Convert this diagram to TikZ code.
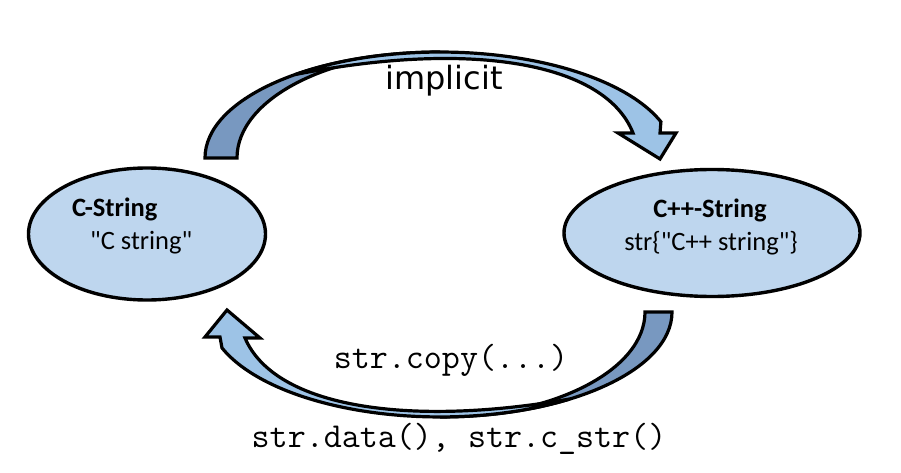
\documentclass[tikz,border=0pt]{standalone}
\usepackage{fontspec}
\setmainfont{Carlito}[Ligatures=TeXOff]
\newfontfamily\dejavu{DejaVu Sans}
\usetikzlibrary{shapes.geometric}
\definecolor{ellfill}{RGB}{190,214,238}
\definecolor{arrlight}{RGB}{157,195,230}
\definecolor{arrdark}{RGB}{120,152,192}
\begin{document}
\begin{tikzpicture}[x=1pt,y=1pt,
  state/.style={ellipse, draw=black, line width=3.4pt, fill=ellfill, inner sep=0pt},
  band/.style={draw=black, line width=3.2pt, line join=miter},
  bodytext/.style={font=\fontsize{26.5}{32}\selectfont, inner sep=0pt},
  headtext/.style={font=\bfseries\fontsize{26.5}{32}\selectfont, inner sep=0pt},
  codetext/.style={font=\ttfamily\fontsize{35}{40}\selectfont, inner sep=0pt}]
\useasboundingbox[fill=white] (0,0) rectangle (901,472);

% states
\node[state, minimum width=237pt, minimum height=132pt] (cs) at (147,238) {};
\node[state, minimum width=296pt, minimum height=127pt] (cpp) at (712,239) {};

\node[headtext, anchor=west] (csH) at (72,263) {C-String};
\node[bodytext, anchor=west] (csB) at (90,229) {"C string"};
\node[headtext] (cppH) at (710,262) {C++-String};
\node[bodytext] (cppB) at (711,229) {str\{"C++ string"\}};

% top curved arrow
\draw[band, fill=arrdark] (205,314)
  arc[start angle=180, end angle=90, x radius=235, y radius=106]
  arc[start angle=90, end angle=180, x radius=203, y radius=106] -- cycle;
\draw[band, fill=arrlight] (295.4,397.5)
  arc[start angle=128, end angle=20, x radius=235, y radius=106]
  -- (660,339) -- (676,339) -- (660,313) -- (618,339) -- (633,339)
  .. controls (605,410) and (470,432) .. (295.4,397.5) -- cycle;

% bottom curved arrow
\draw[band, fill=arrdark] (672,160)
  arc[start angle=0, end angle=-90, x radius=232, y radius=105]
  arc[start angle=-90, end angle=0, x radius=205, y radius=105] -- cycle;
\draw[band, fill=arrlight] (569.7,73)
  arc[start angle=-56, end angle=-160, x radius=232, y radius=105]
  -- (220,135) -- (205,135) -- (227,162) -- (260,134) -- (245,134)
  .. controls (275,64) and (410,45) .. (569.7,73) -- cycle;

% labels
\node[font=\dejavu\fontsize{32}{38}\selectfont, inner sep=0pt] (impl) at (444,391) {implicit};
\node[codetext] (copy) at (451,112) {str.copy(...)};
\node[codetext] (data) at (459,33) {str.data(), str.c\_str()};
\end{tikzpicture}
\end{document}
